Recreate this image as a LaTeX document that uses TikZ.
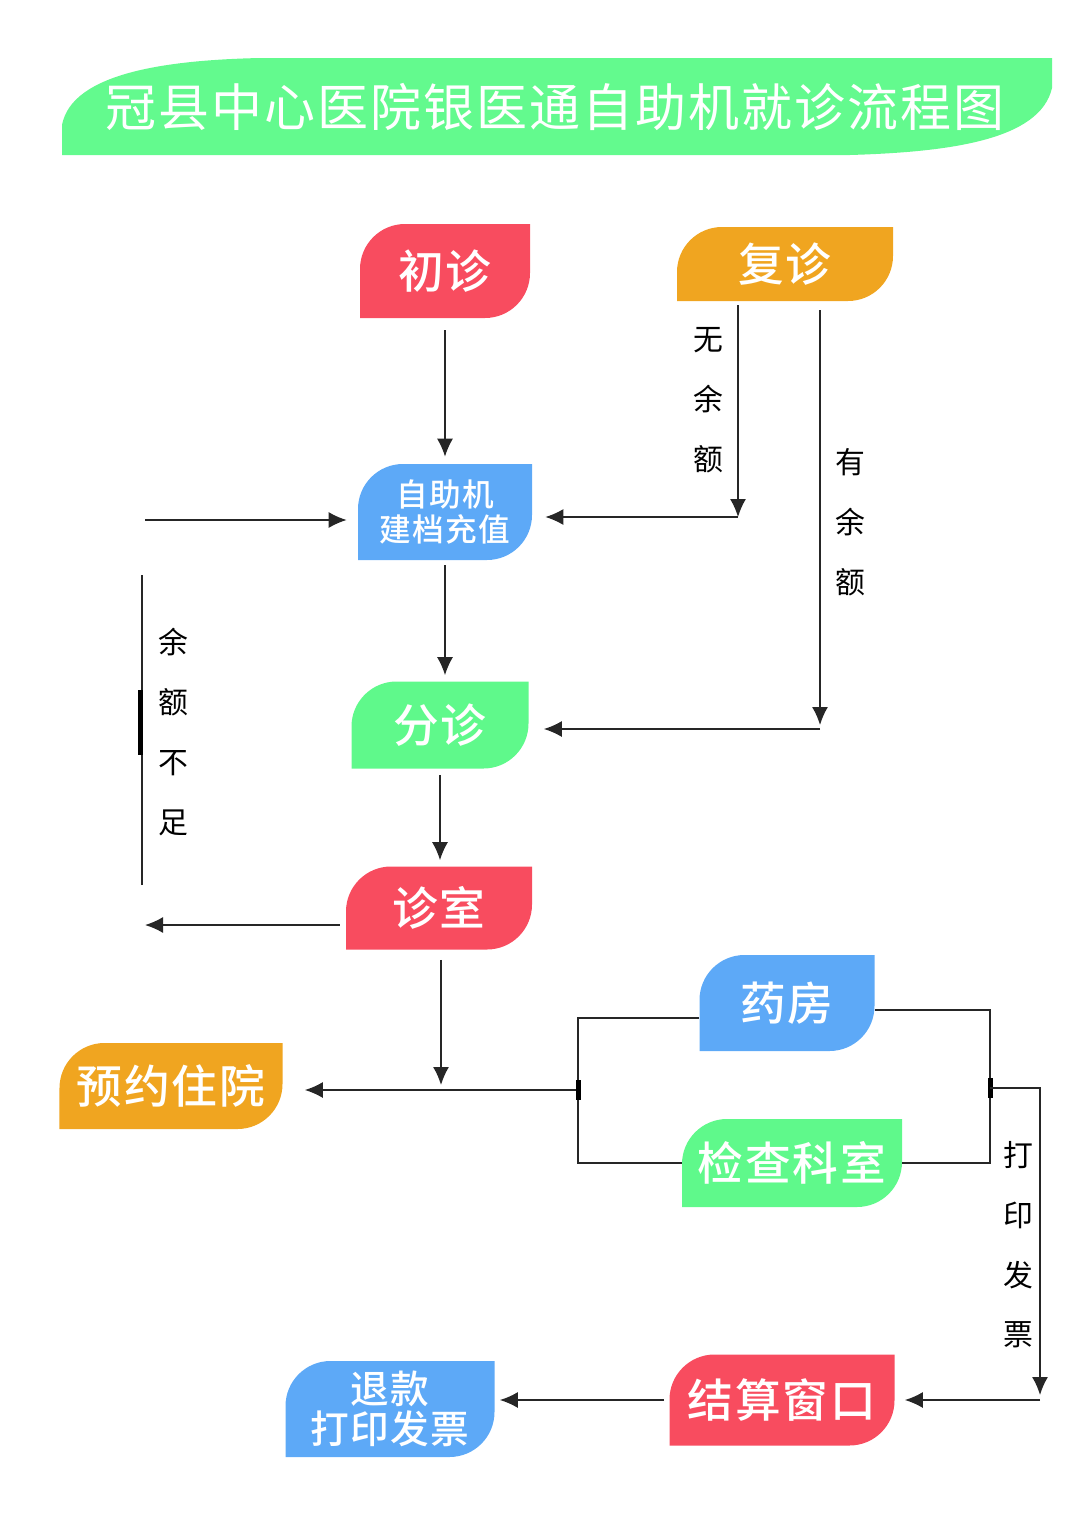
\documentclass[tikz,border=0pt]{standalone}
\usepackage{fontspec}
\setmainfont{Noto Sans CJK SC}
\newfontfamily\boxfont{Noto Sans CJK SC Medium}[LetterSpace=4]
\usetikzlibrary{arrows.meta}

\definecolor{leafred}{HTML}{F84C5F}
\definecolor{leaforange}{HTML}{F0A520}
\definecolor{leafblue}{HTML}{5DA9F7}
\definecolor{leafgreen}{HTML}{5FF98B}
\definecolor{titlegreen}{HTML}{63FA8E}

\tikzset{
  leaf/.style={inner sep=0pt, text=white, font=\boxfont\fontsize{26}{30}\selectfont,
    path picture={\fill[#1] (path picture bounding box.south west)
      -- ([yshift=-9mm]path picture bounding box.north west)
      arc[start angle=180, end angle=90, radius=9mm]
      -- (path picture bounding box.north east)
      -- ([yshift=9mm]path picture bounding box.south east)
      arc[start angle=0, end angle=-90, radius=9mm] -- cycle;}},
  link/.style={draw=black!85, line width=0.3mm},
  tick/.style={line width=1mm},
  side/.style={font=\fontsize{17}{34}\selectfont, align=center, inner sep=0pt}
}

\begin{document}
\begin{tikzpicture}[x=0.2mm, y=-0.2mm, >={Latex[length=3.6mm,width=3.2mm]}]
    \useasboundingbox (0,0) rectangle (1080,1527);

    % title banner
    \fill[titlegreen] (62,155) -- (62,125) .. controls (72,72) and (170,60) .. (260,58)
        -- (1052,58) -- (1052,88) .. controls (1040,140) and (950,152) .. (850,155) -- cycle;
    \node[text=white, font=\addfontfeature{LetterSpace=4}\fontsize{29}{32}\selectfont] (title) at (555,107) {冠县中心医院银医通自助机就诊流程图};

    % boxes
    \node[leaf=leafred, minimum width=34mm, minimum height=18.8mm] (chuzhen) at (445,271) {初诊};
    \node[leaf=leaforange, minimum width=43.2mm, minimum height=14.8mm] (fuzhen) at (785,264) {复诊};
    \node[leaf=leafblue, minimum width=34.8mm, minimum height=19.2mm, align=center,
          font=\boxfont\fontsize{18}{20}\selectfont] (chongzhi) at (445,512) {自助机\\建档充值};
    \node[leaf=leafgreen, minimum width=35.4mm, minimum height=17.4mm] (fenzhen) at (440,725) {分诊};
    \node[leaf=leafred, minimum width=37.2mm, minimum height=16.6mm] (zhenshi) at (439,908) {诊室};
    \node[leaf=leafblue, minimum width=35mm, minimum height=19.2mm] (yaofang) at (787,1003) {药房};
    \node[leaf=leafgreen, minimum width=44mm, minimum height=17.6mm] (jiancha) at (792,1163) {检查科室};
    \node[leaf=leaforange, minimum width=44.6mm, minimum height=17.2mm] (zhuyuan) at (171,1086) {预约住院};
    \node[leaf=leafred, minimum width=45mm, minimum height=18.2mm] (jiesuan) at (782,1400) {结算窗口};
    \node[leaf=leafblue, minimum width=41.8mm, minimum height=19.2mm, align=center,
          font=\boxfont\fontsize{22}{23}\selectfont] (tuikuan) at (390,1409) {退款\\打印发票};

    % main column
    \draw[link, ->, shorten <=2.4mm, shorten >=1.4mm] (chuzhen) -- (chongzhi);
    \draw[link, ->, shorten <=1mm, shorten >=1.2mm] (chongzhi.south) -- (chongzhi.south |- fenzhen.north);
    \draw[link, ->, shorten <=1.2mm, shorten >=1.2mm] (fenzhen.south) -- (fenzhen.south |- zhenshi.north);

    % return visit
    \coordinate (wu) at (738,517);
    \coordinate (you) at (820,729);
    \draw[link, ->, shorten <=0.8mm] (fuzhen.south -| wu) -- (wu);
    \draw[link, ->, shorten >=2.6mm] (wu) -- (wu -| chongzhi.east);
    \draw[link, ->, shorten <=1.8mm, shorten >=0.8mm] (fuzhen.south -| you) -- (you);
    \draw[link, ->, shorten >=3mm] (you) -- (you -| fenzhen.east);
    \node[side] (wulabel) at (708,400) {无\\余\\额};
    \node[side] (youlabel) at (850,522) {有\\余\\额};

    % balance too low
    \coordinate (buzu) at (142,925);
    \coordinate (chong) at (142,520);
    \draw[link, ->, shorten <=1.2mm, shorten >=0.6mm] (zhenshi.west |- buzu) -- (buzu);
    \draw[link, shorten <=8mm, shorten >=11mm] (buzu) -- (chong);
    \draw[tick] (140,690) -- (140,755);
    \draw[link, ->, shorten <=0.6mm, shorten >=2.2mm] (chong) -- (chong -| chongzhi.west);
    \node[side] (buzulabel) at (173,732) {余\\额\\不\\足};

    % to hospital stay
    \coordinate (zy) at (441,1090);
    \coordinate (lb) at (578,1090);
    \draw[link, ->, shorten <=2mm, shorten >=1mm] (zhenshi.south -| zy) -- (zy);
    \draw[link, ->, shorten >=4.4mm] (lb) -- (lb -| zhuyuan.east);
    \draw[link] ([yshift=-3mm]yaofang.west) -| (lb) |- (jiancha.west);
    \draw[tick] (lb) ++(0,-10) -- ++(0,20);

    % invoice
    \coordinate (rb) at (990,1088);
    \coordinate (fp) at (1040,1400);
    \draw[link] ([yshift=-1.4mm]yaofang.east) -| (rb) |- (jiancha.east);
    \draw[tick] (rb) ++(0,-10) -- ++(0,20);
    \draw[link, ->, shorten >=1mm] (rb) -| (fp);
    \draw[link, ->, shorten >=2mm] (fp) -- (fp -| jiesuan.east);
    \node[side] (fapiao) at (1018,1245) {打\\印\\发\\票};

    \draw[link, ->, shorten <=1mm, shorten >=1mm] (jiesuan.west) -- (jiesuan.west -| tuikuan.east);
\end{tikzpicture}
\end{document}
